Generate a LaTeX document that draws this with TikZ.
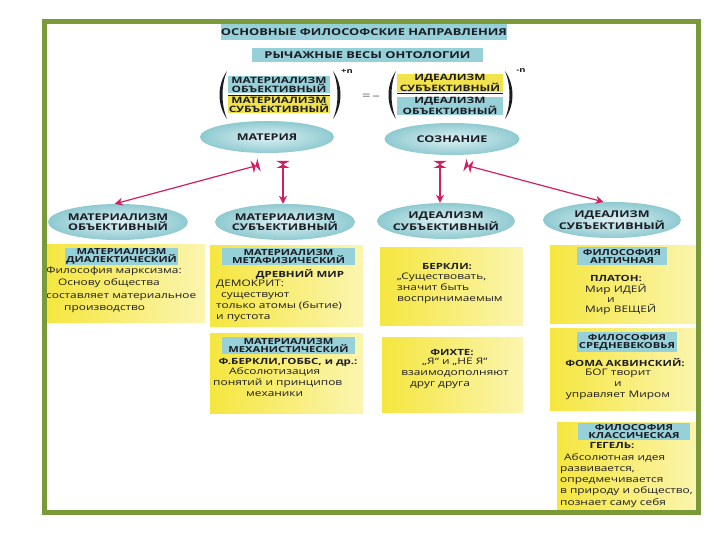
\documentclass[tikz,border=0pt]{standalone}
\usepackage{fontspec}
\setmainfont{Open Sans}
\newfontfamily\headf{Open Sans}[FakeStretch=1.35]
\newfontfamily\bodyf{Open Sans}[FakeStretch=1.32]
\usetikzlibrary{shapes.geometric,arrows.meta}
\definecolor{frameg}{HTML}{7A9A3A}
\definecolor{bandb}{HTML}{96D0D8}
\definecolor{yel}{HTML}{F5E63F}
\definecolor{yelpale}{HTML}{FBF5B0}
\definecolor{fyel}{HTML}{F2E24C}
\definecolor{ellc}{HTML}{8FCAD1}
\definecolor{ellin}{HTML}{DDF1F3}
\definecolor{arr}{HTML}{D21E64}
\definecolor{ink}{HTML}{1C1C24}
\newcommand\myhd{\headf\bfseries\fontsize{8.3}{8}\selectfont}
\newcommand\myell{\headf\bfseries\fontsize{9.3}{9.5}\selectfont}
\newcommand\myfr{\headf\bfseries\fontsize{8.8}{8}\selectfont}
\newcommand\mybd{\bodyf\fontsize{9}{11}\selectfont}
\newcommand\mybold{\headf\bfseries\fontsize{8.5}{11}\selectfont}
\tikzset{
  ybox/.style={rectangle, inner sep=0, draw=none, left color=yel, right color=yelpale},
  band/.style={rectangle, inner sep=0, fill=bandb, align=center, text=ink, font=\myhd},
  fbox/.style={rectangle, inner sep=0, align=center, text=ink, font=\myfr},
  ell/.style={ellipse, inner xsep=-30pt, inner ysep=-10pt, shading=radial, inner color=ellin, outer color=ellc, align=center, text=ink, font=\myell},
  bodytxt/.style={inner sep=0, align=left, text=ink, font=\mybd},
  boldtxt/.style={inner sep=0, text=ink, font=\mybold},
  arrowline/.style={draw=arr, line width=1.2pt,
    arrows={Triangle[reversed,length=3.5pt,width=13pt,sep=0pt]Triangle[length=3.5pt,width=13pt]-Stealth[length=8pt,width=8pt,inset=2.5pt]}},
  paren/.style={fill=ink, draw=none}
}
\begin{document}
\begin{tikzpicture}[x=1pt,y=-1pt]
\useasboundingbox (0,0) rectangle (720,540);
\fill[white] (0,0) rectangle (720,540);

% titles
\node[band, minimum width=282, minimum height=16, font=\headf\bfseries\fontsize{9.5}{10}\selectfont] (t1) at (364,32) {ОСНОВНЫЕ ФИЛОСОФСКИЕ НАПРАВЛЕНИЯ};
\node[band, minimum width=231, minimum height=14, font=\headf\bfseries\fontsize{9.5}{10}\selectfont] (t2) at (367.5,55) {РЫЧАЖНЫЕ ВЕСЫ ОНТОЛОГИИ};

% formula
\node[fbox, fill=bandb, minimum width=102, minimum height=17] (f1) at (279,85) {МАТЕРИАЛИЗМ\\ОБЪЕКТИВНЫЙ};
\node[fbox, fill=fyel, minimum width=102, minimum height=17] (f2) at (279,105) {МАТЕРИАЛИЗМ\\СУБЪЕКТИВНЫЙ};
\node[fbox, fill=fyel, minimum width=106, minimum height=16] (f3) at (450,83) {ИДЕАЛИЗМ\\СУБЪЕКТИВНЫЙ};
\node[fbox, fill=bandb, minimum width=106, minimum height=18] (f4) at (450,106) {ИДЕАЛИЗМ\\ОБЪЕКТИВНЫЙ};
\draw[ink, line width=0.9pt] (228,95) -- (330,95);
\draw[ink, line width=0.9pt] (397,93.5) -- (503,93.5);
\fill[paren] (227,71) .. controls (217,85) and (217,105) .. (227,119) .. controls (221,105) and (221,85) .. (227,71);
\fill[paren] (333,71) .. controls (343,85) and (343,105) .. (333,119) .. controls (339,105) and (339,85) .. (333,71);
\fill[paren] (396,71) .. controls (386,85) and (386,105) .. (396,119) .. controls (390,105) and (390,85) .. (396,71);
\fill[paren] (505,71) .. controls (515,85) and (515,105) .. (505,119) .. controls (511,105) and (511,85) .. (505,71);
\node[boldtxt, font=\headf\bfseries\fontsize{7}{7}\selectfont] (pn) at (347,71) {+n};
\node[boldtxt, font=\headf\bfseries\fontsize{7}{7}\selectfont] (mn) at (521,71) {-n};
\node[inner sep=0, text=ink!70, font=\headf\fontsize{11}{11}\selectfont] (eq) at (371,97) {=\,–};

% top ellipses
\node[ell, minimum width=134, minimum height=32] (mat) at (267,137) {МАТЕРИЯ};
\node[ell, minimum width=135, minimum height=32] (soz) at (452,139) {СОЗНАНИЕ};

% second row ellipses
\node[ell, minimum width=140, minimum height=36] (e1) at (118,222) {МАТЕРИАЛИЗМ\\ОБЪЕКТИВНЫЙ};
\node[ell, minimum width=140, minimum height=36] (e2) at (285,222) {МАТЕРИАЛИЗМ\\СУБЪЕКТИВНЫЙ};
\node[ell, minimum width=138, minimum height=36] (e3) at (446,221) {ИДЕАЛИЗМ\\СУБЪЕКТИВНЫЙ};
\node[ell, minimum width=138, minimum height=36] (e4) at (612,220) {ИДЕАЛИЗМ\\СУБЪЕКТИВНЫЙ};

% arrows
\coordinate (a1) at (259,165);
\coordinate (a2) at (283,161);
\coordinate (a3) at (440,161);
\coordinate (a4) at (465,165);
\draw[arrowline] (a1) -- (e1.100);
\draw[arrowline] (a2) -- (a2 |- e2.north);
\draw[arrowline] (a3) -- (a3 |- e3.north);
\draw[arrowline] (a4) -- (e4.115);

% column 1
\node[ybox, minimum width=160, minimum height=78] (b1) at (125,283) {};
\node[band, minimum width=113, minimum height=17] (h1) at (121.5,256.5) {МАТЕРИАЛИЗМ\\ДИАЛЕКТИЧЕСКИЙ};
\node[bodytxt, anchor=north west, font=\bodyf\fontsize{9}{12.5}\selectfont] (x1) at (46,266) {Философия марксизма:\\\hspace*{12pt}Основу общества\\составляет материальное\\\hspace*{18pt}производство};

% column 2
\node[ybox, minimum width=153, minimum height=81] (b2) at (286.5,285.5) {};
\node[band, minimum width=133, minimum height=17] (h2) at (288.5,256.5) {МАТЕРИАЛИЗМ\\МЕТАФИЗИЧЕСКИЙ};
\node[boldtxt] (k2) at (300,274) {ДРЕВНИЙ МИР};
\node[bodytxt, anchor=north west] (x2) at (216,280) {ДЕМОКРИТ:\\\hspace*{5pt}существуют\\только атомы (бытие)\\и пустота};

\node[ybox, minimum width=153, minimum height=80] (b3) at (286.5,373) {};
\node[band, minimum width=133, minimum height=17] (h3) at (288.5,345.5) {МАТЕРИАЛИЗМ\\МЕХАНИСТИЧЕСКИЙ};
\node[boldtxt] (k3) at (288,362) {Ф.БЕРКЛИ,ГОББС, и др.:};
\node[bodytxt, anchor=north west] (x3) at (213,367) {\hspace*{16pt}Абсолютизация\\понятий и принципов\\\hspace*{33pt}механики};

% column 3
\node[ybox, minimum width=143, minimum height=78] (b4) at (451.5,286) {};
\node[boldtxt] (k4) at (447,267) {БЕРКЛИ:};
\node[bodytxt, anchor=north west] (x4) at (397,273) {„Существовать,\\значит быть\\воспринимаемым};

\node[ybox, minimum width=141, minimum height=75] (b5) at (452.5,374.5) {};
\node[boldtxt] (k5) at (452,352) {ФИХТЕ:};
\node[bodytxt, anchor=north, align=center] (x5) at (455,358) {„Я“ и „НЕ Я“\\взаимодополняют\\друг друга\hspace*{30pt}};

% column 4
\node[ybox, minimum width=150, minimum height=78] (b6) at (625,284) {};
\node[band, minimum width=90, minimum height=18] (h6) at (622,256) {ФИЛОСОФИЯ\\АНТИЧНАЯ};
\node[boldtxt] (k6) at (616,278) {ПЛАТОН:};
\node[bodytxt, anchor=north west, font=\bodyf\fontsize{9}{10}\selectfont] (x6) at (585,284) {Мир ИДЕЙ\\\hspace*{22pt}и\\Мир ВЕЩЕЙ};

\node[ybox, minimum width=150, minimum height=82] (b7) at (625,369) {};
\node[band, minimum width=100, minimum height=20] (h7) at (627,342) {ФИЛОСОФИЯ\\СРЕДНЕВЕКОВЬЯ};
\node[boldtxt] (k7) at (625,363) {ФОМА АКВИНСКИЙ:};
\node[bodytxt, anchor=north, align=center] (x7) at (618,369) {БОГ творит\\и\\управляет Миром};

\node[ybox, minimum width=143, minimum height=90] (b8) at (628.5,467) {};
\node[band, minimum width=112, minimum height=17] (h8) at (634,431.5) {ФИЛОСОФИЯ\\КЛАССИЧЕСКАЯ};
\node[boldtxt] (k8) at (612,446) {ГЕГЕЛЬ:};
\node[bodytxt, anchor=north west, font=\bodyf\fontsize{9}{11.3}\selectfont] (x8) at (560,453) {\hspace*{4pt}Абсолютная идея\\развивается,\\опредмечивается\\в природу и общество,\\познает саму себя};

% frame
\node[draw=frameg, line width=5pt, minimum width=654, minimum height=490, inner sep=0] (frame) at (371,267) {};
\end{tikzpicture}
\end{document}
